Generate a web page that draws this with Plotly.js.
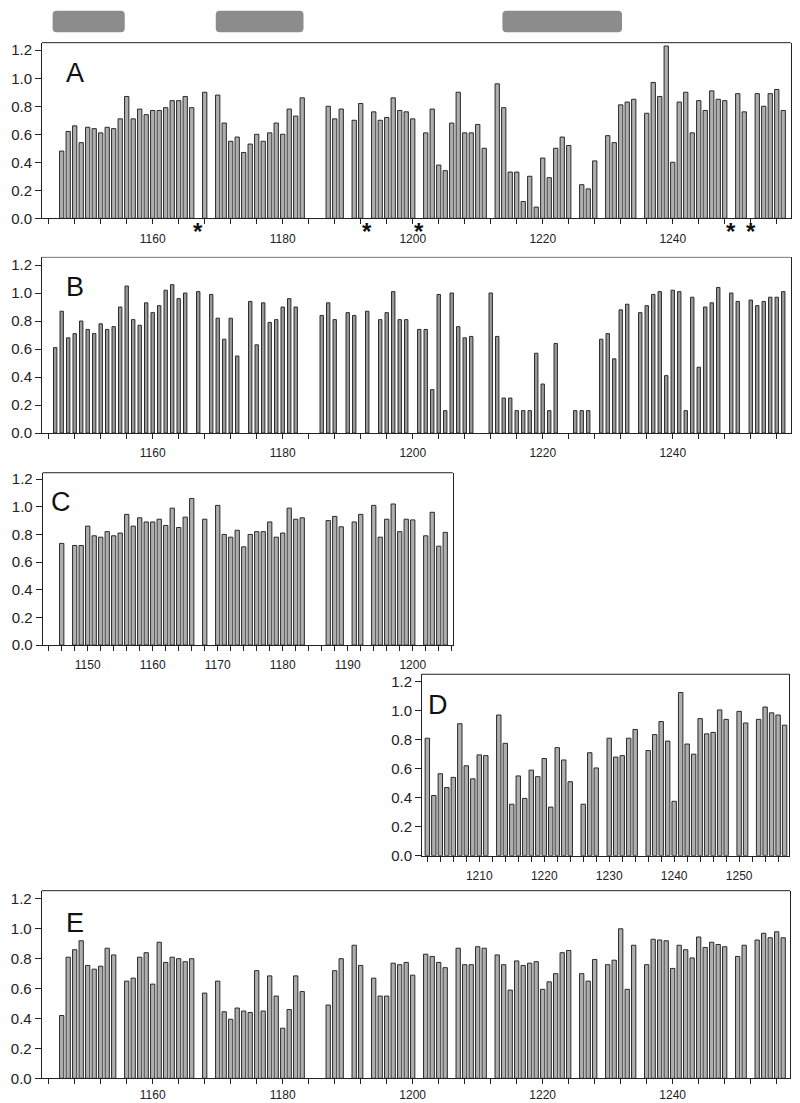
<!DOCTYPE html>
<html>
<head>
<meta charset="utf-8">
<script src="https://cdn.plot.ly/plotly-3.0.1.min.js"></script>
<style>
  html, body { margin: 0; padding: 0; background: #ffffff; }
  #chart { width: 800px; height: 1103px; }
</style>
</head>
<body>
<div id="chart"></div>
<script>
// ---------------- data ----------------
const panelLetters = ["A", "B", "C", "D", "E"];

const aRes = [1146,1147,1148,1149,1150,1151,1152,1153,1154,1155,1156,1157,1158,1159,1160,1161,1162,1163,1164,1165,1166,
  1168,
  1170,1171,1172,1173,1174,1175,1176,1177,1178,1179,1180,1181,1182,1183,
  1187,1188,1189,
  1191,1192,
  1194,1195,1196,1197,1198,1199,1200,
  1202,1203,1204,1205,1206,1207,1208,1209,1210,1211,
  1213,1214,1215,1216,1217,1218,1219,1220,1221,1222,1223,1224,
  1226,1227,1228,
  1230,1231,1232,1233,1234,
  1236,1237,1238,1239,1240,1241,1242,1243,1244,1245,1246,1247,1248,
  1250,1251,
  1253,1254,1255,1256,1257];
const aVal = [0.48,0.62,0.66,0.54,0.65,0.64,0.61,0.65,0.64,0.71,0.87,0.71,0.78,0.74,0.77,0.77,0.79,0.84,0.84,0.87,0.79,
  0.90,
  0.88,0.68,0.55,0.58,0.47,0.53,0.60,0.55,0.61,0.68,0.60,0.78,0.73,0.86,
  0.80,0.71,0.78,
  0.70,0.82,
  0.76,0.70,0.72,0.86,0.77,0.76,0.71,
  0.61,0.78,0.38,0.34,0.68,0.90,0.61,0.61,0.67,0.50,
  0.96,0.79,0.33,0.33,0.12,0.30,0.08,0.43,0.29,0.50,0.58,0.52,
  0.24,0.21,0.41,
  0.59,0.54,0.81,0.83,0.85,
  0.75,0.97,0.87,1.23,0.40,0.83,0.90,0.61,0.84,0.77,0.91,0.85,0.84,
  0.89,0.76,
  0.89,0.80,0.89,0.92,0.77];
const aStars = [1167, 1193, 1201, 1249, 1252];
const domainBoxes = [[1144.6, 1155.7], [1169.7, 1183.2], [1213.8, 1232.2]];

const bRes = [1145,1146,1147,1148,1149,1150,1151,1152,1153,1154,1155,1156,1157,1158,1159,1160,1161,1162,1163,1164,1165,
  1167,
  1169,1170,1171,1172,1173,
  1175,1176,1177,1178,1179,1180,1181,1182,
  1186,1187,1188,
  1190,1191,
  1193,
  1195,1196,1197,1198,1199,
  1201,1202,1203,1204,1205,1206,1207,1208,1209,
  1212,1213,1214,1215,1216,1217,1218,1219,1220,1221,1222,
  1225,1226,1227,
  1229,1230,1231,1232,1233,
  1235,1236,1237,1238,1239,1240,1241,1242,1243,1244,1245,1246,1247,
  1249,1250,
  1252,1253,1254,1255,1256,1257];
const bVal = [0.61,0.87,0.68,0.71,0.80,0.74,0.71,0.78,0.74,0.76,0.90,1.05,0.81,0.77,0.93,0.86,0.91,1.02,1.06,0.96,1.00,
  1.01,
  0.99,0.82,0.67,0.82,0.55,
  0.94,0.63,0.93,0.79,0.81,0.90,0.96,0.90,
  0.84,0.93,0.81,
  0.86,0.84,
  0.87,
  0.81,0.86,1.01,0.81,0.81,
  0.74,0.74,0.31,0.99,0.16,1.00,0.76,0.68,0.69,
  1.00,0.69,0.25,0.25,0.16,0.16,0.16,0.57,0.35,0.16,0.64,
  0.16,0.16,0.16,
  0.67,0.71,0.53,0.88,0.92,
  0.86,0.91,0.99,1.01,0.41,1.02,1.01,0.16,0.97,0.47,0.90,0.93,1.04,
  1.00,0.94,
  0.95,0.91,0.94,0.97,0.97,1.01];

const cRes = [1146,
  1148,1149,1150,1151,1152,1153,1154,1155,1156,1157,1158,1159,1160,1161,1162,1163,1164,1165,1166,
  1168,
  1170,1171,1172,1173,1174,1175,1176,1177,1178,1179,1180,1181,1182,1183,
  1187,1188,1189,
  1191,1192,
  1194,1195,1196,1197,1198,1199,1200,
  1202,1203,1204,1205];
const cVal = [0.735,
  0.72,0.72,0.86,0.79,0.78,0.82,0.79,0.81,0.945,0.86,0.92,0.89,0.89,0.91,0.865,0.99,0.85,0.925,1.06,
  0.91,
  1.01,0.80,0.78,0.83,0.71,0.80,0.82,0.82,0.89,0.78,0.81,0.99,0.91,0.92,
  0.90,0.93,0.855,
  0.89,0.945,
  1.01,0.78,0.91,1.02,0.82,0.91,0.905,
  0.79,0.96,0.715,0.815];

const dRes = [1202,1203,1204,1205,1206,1207,1208,1209,1210,1211,
  1213,1214,1215,1216,1217,1218,1219,1220,1221,1222,1223,1224,
  1226,1227,1228,
  1230,1231,1232,1233,1234,
  1236,1237,1238,1239,1240,1241,1242,1243,1244,1245,1246,1247,1248,
  1250,1251,
  1253,1254,1255,1256,1257];
const dVal = [0.81,0.415,0.565,0.47,0.54,0.91,0.62,0.53,0.695,0.69,
  0.97,0.775,0.355,0.55,0.395,0.59,0.545,0.67,0.335,0.745,0.66,0.51,
  0.355,0.71,0.605,
  0.81,0.68,0.69,0.81,0.87,
  0.725,0.835,0.925,0.79,0.375,1.125,0.77,0.70,0.945,0.84,0.85,1.005,0.94,
  0.995,0.915,
  0.94,1.025,0.985,0.97,0.90];

const eRes = [1146,1147,1148,1149,1150,1151,1152,1153,1154,
  1156,1157,1158,1159,1160,1161,1162,1163,1164,1165,1166,
  1168,
  1170,1171,1172,1173,1174,1175,1176,1177,1178,1179,1180,1181,1182,1183,
  1187,1188,1189,
  1191,1192,
  1194,1195,1196,1197,1198,1199,1200,
  1202,1203,1204,1205,
  1207,1208,1209,1210,1211,
  1213,1214,1215,1216,1217,1218,1219,1220,1221,1222,1223,1224,
  1226,1227,1228,
  1230,1231,1232,1233,1234,
  1236,1237,1238,1239,1240,1241,1242,1243,1244,1245,1246,1247,1248,
  1250,1251,
  1253,1254,1255,1256,1257];
const eVal = [0.42,0.81,0.86,0.92,0.755,0.73,0.75,0.87,0.825,
  0.65,0.67,0.81,0.84,0.63,0.91,0.775,0.81,0.80,0.78,0.80,
  0.57,
  0.65,0.445,0.395,0.47,0.45,0.44,0.72,0.45,0.685,0.55,0.335,0.46,0.685,0.58,
  0.49,0.72,0.80,
  0.89,0.755,
  0.67,0.55,0.55,0.77,0.76,0.775,0.69,
  0.83,0.815,0.775,0.74,
  0.87,0.76,0.76,0.88,0.87,
  0.825,0.76,0.59,0.785,0.755,0.77,0.78,0.595,0.645,0.70,0.84,0.855,
  0.70,0.65,0.795,
  0.76,0.79,1.00,0.595,0.89,
  0.76,0.93,0.925,0.92,0.735,0.89,0.86,0.805,0.945,0.875,0.91,0.895,0.88,
  0.815,0.89,
  0.925,0.97,0.94,0.98,0.94];

// ---------------- styling / layout ----------------
const FONT = "Liberation Sans, Arial, sans-serif";
const INK = "#222222";

const panels = [
  {res: aRes, val: aVal, xd: [0.0525, 0.9884], yd: [0.8021, 0.9613], xr: [1142.97, 1258.15], yr: [0, 1.254], major: 20, minor: 4, minor0: 1144, w: 0.66, fill: "#aeaeae", standoff: 4, topLine: INK},
  {res: bRes, val: bVal, xd: [0.0525, 0.9884], yd: [0.6074, 0.7667], xr: [1142.97, 1258.15], yr: [0, 1.255], major: 20, minor: 4, minor0: 1144, w: 0.52, fill: "#9a9a9a", standoff: 4, topLine: "#777777"},
  {res: cRes, val: cVal, xd: [0.0534, 0.5659], yd: [0.4152, 0.5714], xr: [1143.08, 1206.15], yr: [0, 1.246], major: 10, minor: 2, minor0: 1144, w: 0.66, fill: "#aeaeae", standoff: 4, topLine: INK},
  {res: dRes, val: dVal, xd: [0.5275, 0.9866], yd: [0.2242, 0.3887], xr: [1201.18, 1257.72], yr: [0, 1.251], major: 10, minor: 2, minor0: 1202, w: 0.68, fill: "#aeaeae", standoff: 4, topLine: INK},
  {res: eRes, val: eVal, xd: [0.0521, 0.9875], yd: [0.0224, 0.1925], xr: [1142.92, 1258.05], yr: [0, 1.255], major: 20, minor: 4, minor0: 1144, w: 0.66, fill: "#aeaeae", standoff: 0, topLine: INK}
];

const traces = [];
const layout = {
  width: 800, height: 1103,
  margin: {l: 0, r: 0, t: 0, b: 0},
  paper_bgcolor: "#ffffff", plot_bgcolor: "#ffffff",
  showlegend: false,
  font: {family: FONT, color: INK},
  annotations: [],
  shapes: []
};

panels.forEach((p, i) => {
  const n = i === 0 ? "" : String(i + 1);
  traces.push({
    type: "bar",
    x: p.res, y: p.val,
    width: p.w,
    xaxis: "x" + n, yaxis: "y" + n,
    marker: {color: p.fill, line: {color: "#2a2a2a", width: 1}},
    hoverinfo: "skip"
  });
  layout["xaxis" + n] = {
    domain: p.xd, range: p.xr, anchor: "y" + n,
    showgrid: false, zeroline: false,
    showline: true, linecolor: INK, linewidth: 1, mirror: false,
    ticks: "outside", ticklen: 5, tickwidth: 1, tickcolor: INK,
    tick0: 1160, dtick: p.major,
    minor: {ticks: "outside", ticklen: 5, tickwidth: 1, tickcolor: INK, tick0: p.minor0, dtick: p.minor, showgrid: false},
    tickfont: {family: FONT, size: 12, color: INK},
    ticklabelstandoff: p.standoff,
    fixedrange: true
  };
  layout["yaxis" + n] = {
    domain: p.yd, range: p.yr, anchor: "x" + n,
    showgrid: false, zeroline: false,
    showline: true, linecolor: INK, linewidth: 1, mirror: true,
    ticks: "outside", ticklen: 6, tickwidth: 1, tickcolor: INK,
    tickmode: "array", tickvals: [0, 0.2, 0.4, 0.6, 0.8, 1.0, 1.2],
    tickformat: ".1f",
    tickfont: {family: FONT, size: 15, color: INK},
    fixedrange: true
  };
  // top frame line
  layout.shapes.push({
    type: "line", xref: "x" + n + " domain", yref: "y" + n + " domain",
    x0: 0, x1: 1, y0: 1, y1: 1,
    line: {color: p.topLine, width: 1}
  });
  layout.annotations.push({
    xref: "x" + n + " domain", yref: "y" + n + " domain",
    x: 0.044, y: 0.83, xanchor: "center", yanchor: "middle",
    text: panelLetters[i], showarrow: false,
    font: {family: FONT, size: 27, color: "#111111"}
  });
});

// asterisks below panel A axis
aStars.forEach(r => {
  layout.annotations.push({
    xref: "x", yref: "paper", x: r, y: 0.7897,
    xanchor: "center", yanchor: "middle",
    text: "<b>*</b>", showarrow: false,
    font: {family: FONT, size: 24, color: "#111111"}
  });
});

// rounded grey domain boxes above panel A
const yb0 = 0.9707, yb1 = 0.9903, rx = 0.6, ry = 0.0036;
domainBoxes.forEach(([x0, x1]) => {
  const path = `M ${x0 + rx},${yb1} L ${x1 - rx},${yb1} Q ${x1},${yb1} ${x1},${yb1 - ry} ` +
    `L ${x1},${yb0 + ry} Q ${x1},${yb0} ${x1 - rx},${yb0} L ${x0 + rx},${yb0} ` +
    `Q ${x0},${yb0} ${x0},${yb0 + ry} L ${x0},${yb1 - ry} Q ${x0},${yb1} ${x0 + rx},${yb1} Z`;
  layout.shapes.push({
    type: "path", xref: "x", yref: "paper", path: path,
    fillcolor: "#8c8c8c", line: {width: 0}
  });
});

Plotly.newPlot("chart", traces, layout, {staticPlot: true, displayModeBar: false});
</script>
</body>
</html>
